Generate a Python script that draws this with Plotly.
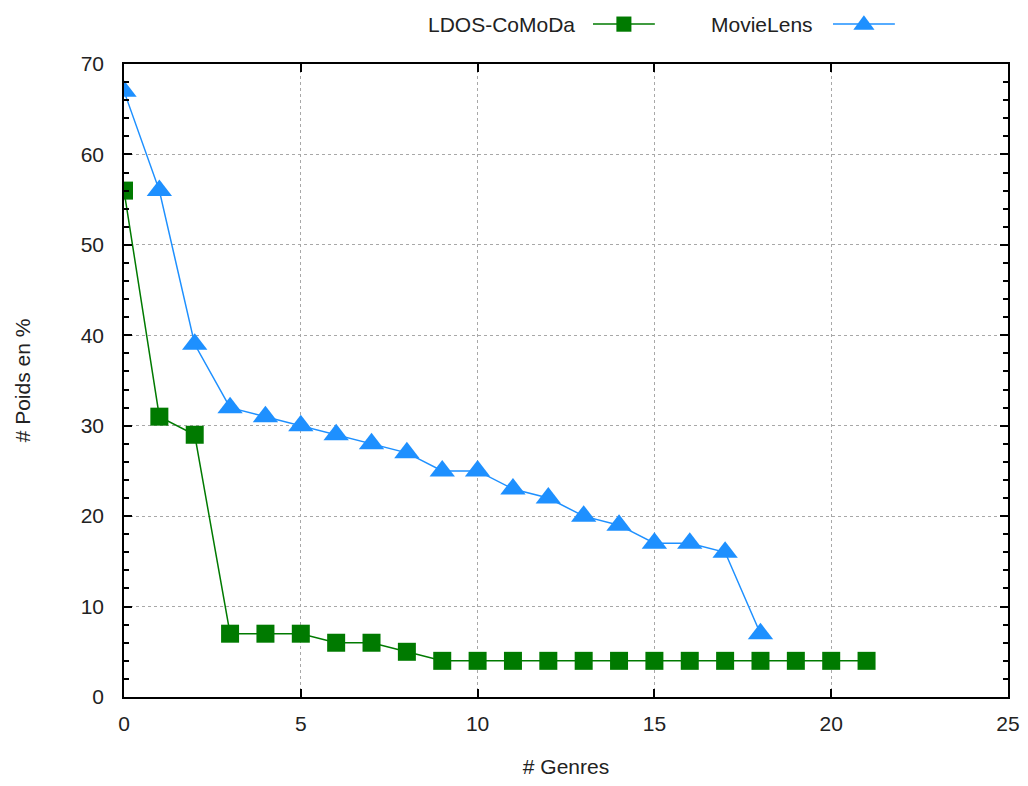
import plotly.graph_objects as go

# nombre de genres (x) et poids en % (y)
ldos_x = list(range(22))
ldos_y = [56, 31, 29, 7, 7, 7, 6, 6, 5, 4, 4, 4, 4, 4, 4, 4, 4, 4, 4, 4, 4, 4]

movielens_x = list(range(19))
movielens_y = [67, 56, 39, 32, 31, 30, 29, 28, 27, 25, 25, 23, 22, 20, 19, 17, 17, 16, 7]

GREEN = "#007a00"
BLUE = "#1e90ff"
FONT = dict(family="Liberation Sans, Arial, sans-serif", size=21, color="#222222")

fig = go.Figure()
fig.add_trace(go.Scatter(
    x=ldos_x, y=ldos_y, name="LDOS-CoMoDa", mode="lines+markers",
    line=dict(color=GREEN, width=1.5),
    marker=dict(symbol="square", size=18, color=GREEN),
))
fig.add_trace(go.Scatter(
    x=movielens_x, y=movielens_y, name="MovieLens", mode="lines+markers",
    line=dict(color=BLUE, width=1.5),
    marker=dict(symbol="triangle-up", size=22, color=BLUE),
))

axis_common = dict(
    showline=True, linecolor="black", linewidth=1.5, mirror="allticks",
    ticks="inside", ticklen=8, tickcolor="black", tickwidth=1.5,
    showgrid=True, gridcolor="#a8a8a8", griddash="dot", gridwidth=1,
    zeroline=False, tickfont=FONT, automargin=False, ticklabeloverflow="allow",
)

fig.update_xaxes(range=[0, 25], dtick=5, ticklabelstandoff=7,
                 title=dict(text="# Genres", font=FONT, standoff=34),
                 **axis_common)
fig.update_yaxes(range=[0, 70], dtick=10, ticklabelstandoff=14,
                 title=dict(text="# Poids en %", font=FONT, standoff=44),
                 minor=dict(dtick=2, ticks="inside", ticklen=5, tickcolor="black", showgrid=False),
                 **axis_common)

# legende dessinee a la main (texte a gauche du symbole, comme gnuplot)
LEG_Y = 1.063
legend_items = [("LDOS-CoMoDa", GREEN, "square", 0.5124, 0.5305),
                ("MovieLens", BLUE, "triangle", 0.7817, 0.802)]
shapes = []
annotations = []
for label, color, sym, text_right, x0 in legend_items:
    annotations.append(dict(xref="paper", yref="paper", x=text_right, y=LEG_Y,
                            text=label, showarrow=False, xanchor="right", yanchor="middle",
                            font=FONT))
    x1 = x0 + 0.070
    shapes.append(dict(type="line", xref="paper", yref="paper", x0=x0, x1=x1,
                       y0=LEG_Y, y1=LEG_Y, line=dict(color=color, width=1.5)))
    xm = (x0 + x1) / 2
    if sym == "square":
        shapes.append(dict(type="rect", xref="paper", yref="paper",
                           x0=xm - 0.0085, x1=xm + 0.0085, y0=LEG_Y - 0.012, y1=LEG_Y + 0.012,
                           fillcolor=color, line=dict(width=0)))
    else:
        shapes.append(dict(type="path", xref="paper", yref="paper",
                           path=f"M {xm - 0.012} {LEG_Y - 0.009} L {xm + 0.012} {LEG_Y - 0.009} "
                                f"L {xm} {LEG_Y + 0.014} Z",
                           fillcolor=color, line=dict(width=0)))

# la page a une marge de 8px autour du graphique
fig.update_layout(
    width=1012, height=770,
    margin=dict(l=116, r=12, t=56, b=81),
    paper_bgcolor="white", plot_bgcolor="white",
    showlegend=False,
    shapes=shapes, annotations=annotations,
    font=FONT,
)

fig.write_html("out.html")
